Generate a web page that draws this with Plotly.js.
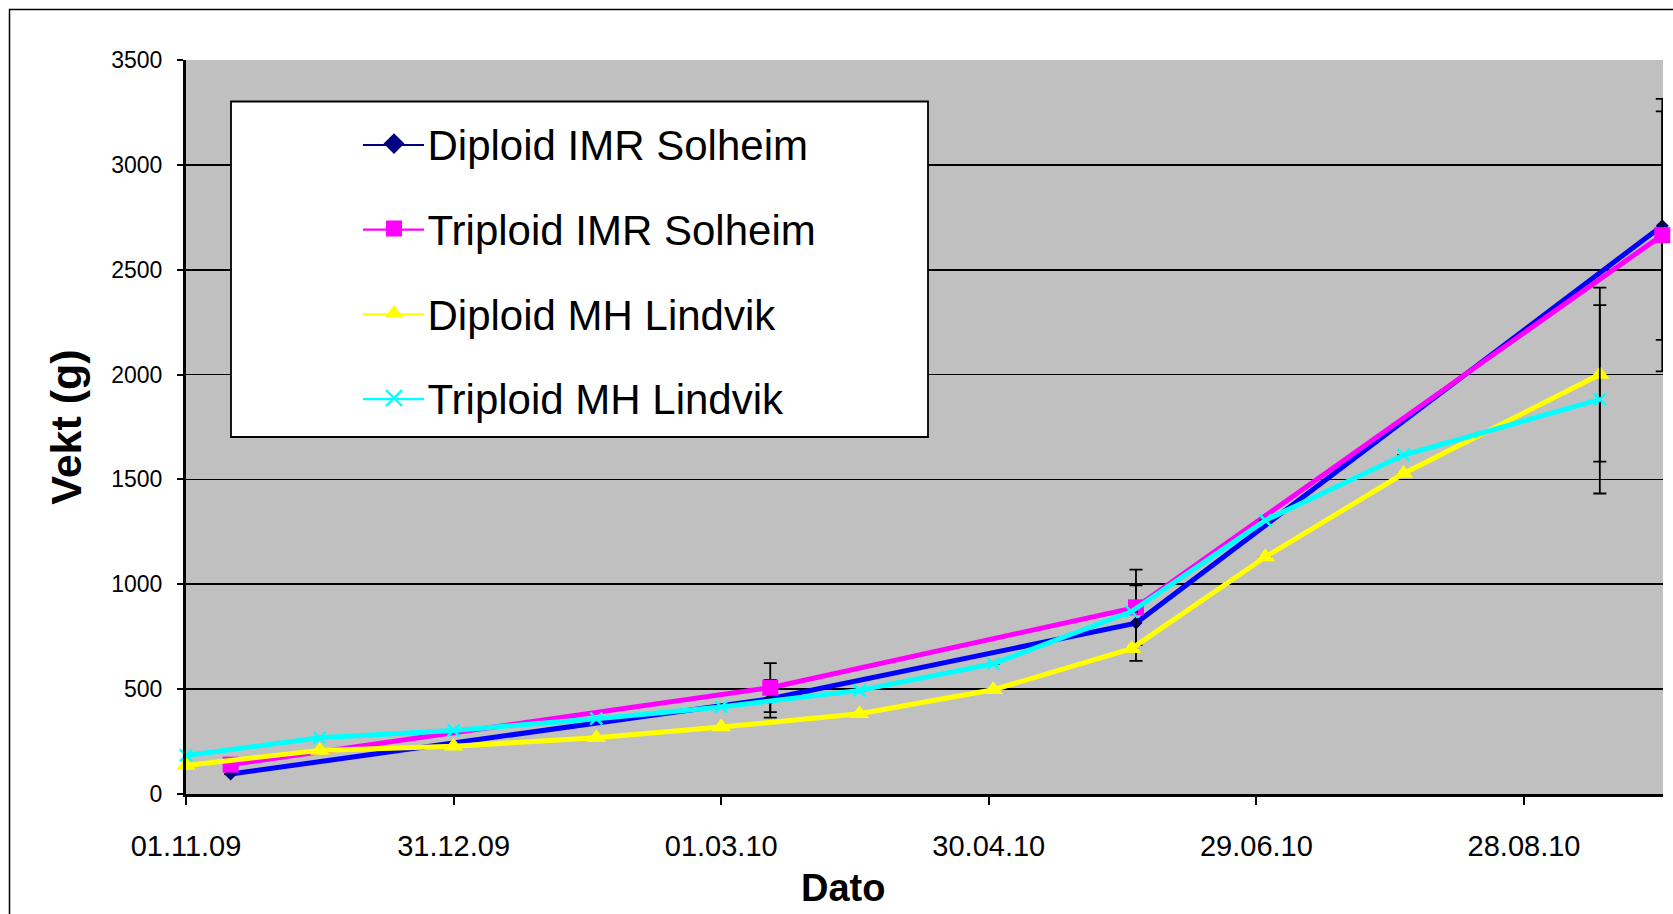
<!DOCTYPE html>
<html>
<head>
<meta charset="utf-8">
<script src="https://cdn.plot.ly/plotly-3.0.1.min.js"></script>
<style>html,body{margin:0;padding:0;background:#fff;}#chart{width:1673px;height:914px;}</style>
</head>
<body>
<div id="chart"></div>
<script>
// ---- data ----
const seriesNames = ["Diploid IMR Solheim", "Triploid IMR Solheim", "Diploid MH Lindvik", "Triploid MH Lindvik"];
const datesIMR = ["2009-11-11", "2010-03-12", "2010-06-02", "2010-09-28"];
const diploidIMR = [95, 454, 815, 2710];
const diploidIMRErr = [null, 90, 180, 545];
const triploidIMR = [140, 507, 890, 2665];
const triploidIMRErr = [null, 117, 180, 650];
const datesMH = ["2009-11-01", "2009-12-01", "2009-12-31", "2010-02-01", "2010-03-01", "2010-04-01",
                 "2010-05-01", "2010-06-01", "2010-07-01", "2010-08-01", "2010-09-14"];
const diploidMH = [136, 208, 228, 268, 319, 383, 497, 693, 1130, 1528, 2000];
const diploidMHErr = [null, null, null, null, null, null, null, null, null, null, 415];
const triploidMH = [184, 268, 303, 359, 415, 494, 621, 870, 1305, 1616, 1882];
const triploidMHErr = [null, null, null, null, null, null, null, null, null, null, 449];
const xTitle = "Dato";
const yTitle = "Vekt (g)";

const FONT = "Liberation Sans, Arial, sans-serif";
const errStyle = {type: "data", visible: true, color: "#000000", thickness: 1.8, width: 6.5};

function dataTrace(name, x, y, err, lineColor, marker) {
  return {
    type: "scatter", mode: "lines+markers", name: name, x: x, y: y,
    line: {color: lineColor, width: 5},
    marker: marker,
    error_y: Object.assign({array: err}, errStyle),
    cliponaxis: false, showlegend: false, hoverinfo: "x+y+name"
  };
}
function legendTrace(name, marker, group) {
  return {
    type: "scatter", mode: "markers", name: name, x: [null], y: [null],
    marker: marker, legendgroup: group, showlegend: true, hoverinfo: "skip"
  };
}

const mk = [
  {symbol: "diamond", size: 10, color: "#000080", line: {width: 0}},
  {symbol: "square", size: 16, color: "#FF00FF", line: {width: 0}},
  {symbol: "triangle-up", size: 17, color: "#FFFF00", line: {width: 0}},
  {symbol: "x-thin-open", size: 12, color: "#00FFFF", line: {width: 2.4, color: "#00FFFF"}}
];
const lineColors = ["#0000FF", "#FF00FF", "#FFFF00", "#00FFFF"];
const legendLineColors = ["#000080", "#FF00FF", "#FFFF00", "#00FFFF"];
const legendMarkerSizes = [16, 16, 16, 16];

const traces = [
  dataTrace(seriesNames[0], datesIMR, diploidIMR, diploidIMRErr, lineColors[0], mk[0]),
  dataTrace(seriesNames[1], datesIMR, triploidIMR, triploidIMRErr, lineColors[1], mk[1]),
  dataTrace(seriesNames[2], datesMH, diploidMH, diploidMHErr, lineColors[2], mk[2]),
  dataTrace(seriesNames[3], datesMH, triploidMH, triploidMHErr, lineColors[3], mk[3])
];
for (let i = 0; i < 4; i++) {
  traces.push(legendTrace(seriesNames[i], Object.assign({}, mk[i], {size: legendMarkerSizes[i]}), "g" + i));
}

const L = 186, R = 1663, T = 60, B = 794;
const px = v => (v - L) / (R - L);
const py = v => (B - v) / (B - T);

// outer frame, legend box and its sample lines
const shapes = [
  {type: "rect", xref: "paper", yref: "paper", x0: px(9.5), x1: px(1700), y0: py(9.5), y1: py(960),
   line: {color: "#000000", width: 1.5}, fillcolor: "rgba(0,0,0,0)", layer: "below"},
  {type: "rect", xref: "paper", yref: "paper", x0: px(231), x1: px(928), y0: py(437), y1: py(101.5),
   line: {color: "#000000", width: 1.8}, fillcolor: "#FFFFFF", layer: "above"}
];
const rowY = [145, 229.7, 314.4, 399.1];
for (let i = 0; i < 4; i++) {
  shapes.push({type: "line", xref: "paper", yref: "paper", x0: px(363), x1: px(424), y0: py(rowY[i]), y1: py(rowY[i]),
               line: {color: legendLineColors[i], width: 2.2}, layer: "above"});
}

const layout = {
  width: 1673, height: 914,
  margin: {l: L, r: 1673 - R, t: T, b: 914 - B, pad: 0},
  paper_bgcolor: "#FFFFFF", plot_bgcolor: "#C0C0C0",
  font: {family: FONT, color: "#000000"},
  showlegend: true,
  xaxis: {
    type: "date", range: ["2009-11-01", "2010-09-28 04:00"],
    tick0: "2009-11-01", dtick: 60 * 86400000, tickformat: "%d.%m.%y",
    ticks: "outside", ticklen: 8, tickwidth: 2, tickcolor: "#000000",
    showline: true, linecolor: "#000000", linewidth: 3,
    showgrid: false, zeroline: false,
    tickfont: {family: FONT, size: 29, color: "#000000"},
    ticklabelstandoff: 16,
    automargin: false
  },
  yaxis: {
    range: [0, 3500], dtick: 500, tick0: 0,
    ticks: "outside", ticklen: 6, tickwidth: 2, tickcolor: "#000000",
    showline: true, linecolor: "#000000", linewidth: 3,
    showgrid: true, gridcolor: "#000000", gridwidth: 1.8, zeroline: false,
    tickfont: {family: FONT, size: 23, color: "#000000"},
    ticklabelstandoff: 10,
    title: {text: yTitle, font: {family: FONT, size: 43, weight: "bold", color: "#000000"}, standoff: 17},
    automargin: false
  },
  legend: {
    x: px(360.5), y: py(109.8), xanchor: "left", yanchor: "top",
    bgcolor: "rgba(0,0,0,0)", borderwidth: 0,
    font: {family: FONT, size: 42, color: "#000000"},
    tracegroupgap: 27.2, traceorder: "grouped", itemwidth: 57
  },
  annotations: [
    {text: xTitle, xref: "paper", yref: "paper", x: px(843), y: py(888), xanchor: "center", yanchor: "middle",
     showarrow: false, borderpad: 0, font: {family: FONT, size: 38, weight: "bold", color: "#000000"}}
  ],
  shapes: shapes
};

Plotly.newPlot("chart", traces, layout, {displayModeBar: false, staticPlot: true});
</script>
</body>
</html>
